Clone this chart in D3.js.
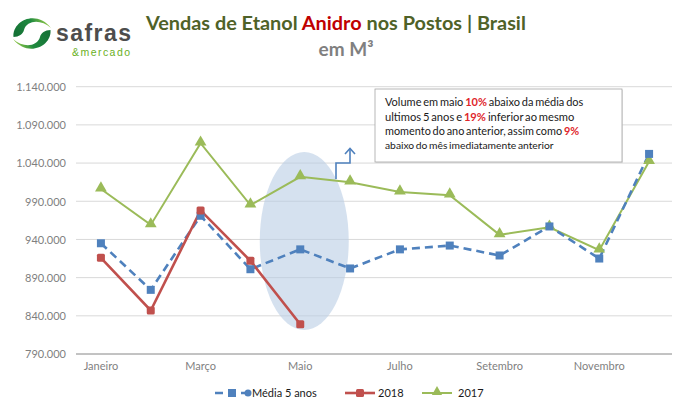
<!DOCTYPE html>
<html><head><meta charset="utf-8">
<script src="https://cdn.jsdelivr.net/npm/d3@7"></script>
<style>
html,body{margin:0;padding:0;background:#fff;}
svg{display:block;font-family:Lato,"Open Sans",sans-serif;}
</style></head>
<body><svg id="c" width="675" height="403"></svg>
<script>
const months = ["Janeiro","Fevereiro","Março","Abril","Maio","Junho","Julho","Agosto","Setembro","Outubro","Novembro","Dezembro"];
const tickMonths = ["Janeiro","Março","Maio","Julho","Setembro","Novembro"];
const media5 = [935000,874000,971000,901000,927000,902000,927000,932000,919000,957000,915000,1052000];
const s2018 = [916000,847000,978000,912000,829000];
const s2017 = [1006000,959000,1066000,985000,1022000,1015000,1002000,998000,946000,956000,926000,1042000];
const yTicks = [790000,840000,890000,940000,990000,1040000,1090000,1140000];
const legendNames = ["Média 5 anos","2018","2017"];

const svg = d3.select("#c");
const x = d3.scaleBand().domain(months).range([76,674]).padding(0);
const cx = m => x(m) + x.bandwidth()/2;
const y = d3.scaleLinear().domain([790000,1140000]).range([354,86.7]);
const fmt = v => d3.format(",")(v).replace(/,/g,".");

const defs = svg.append("defs");
const g1 = defs.append("linearGradient").attr("id","gTop").attr("x1","0").attr("x2","1").attr("y1","0.6").attr("y2","0.3");
g1.append("stop").attr("offset","0").attr("stop-color","#157236");
g1.append("stop").attr("offset","0.55").attr("stop-color","#1f8a3f");
g1.append("stop").attr("offset","1").attr("stop-color","#9fd04a");
const g2 = defs.append("linearGradient").attr("id","gBot").attr("x1","1").attr("x2","0").attr("y1","0.4").attr("y2","0.7");
g2.append("stop").attr("offset","0").attr("stop-color","#157236");
g2.append("stop").attr("offset","0.55").attr("stop-color","#1f8a3f");
g2.append("stop").attr("offset","1").attr("stop-color","#9fd04a");

// fit a text element to a target width by adjusting font size
function fitWidth(sel, target){
  const n = sel.node();
  const fs = parseFloat(sel.attr("font-size"));
  const w = n.getComputedTextLength();
  if (w > 0) sel.attr("font-size", (fs*target/w).toFixed(2));
}
// fit a text element to a target width by adjusting letter spacing
function fitSpacing(sel, target){
  const n = sel.node();
  const txt = sel.text();
  const w = n.getComputedTextLength();
  if (w > 0 && txt.length > 1) sel.attr("letter-spacing", ((target - w)/(txt.length-1)).toFixed(2));
}

// gridlines
svg.append("g").selectAll("line").data(yTicks.slice(1)).join("line")
  .attr("x1",76).attr("x2",672).attr("y1",d=>y(d)).attr("y2",d=>y(d))
  .attr("stroke","#d9d9d9").attr("stroke-width",1);
svg.append("line").attr("x1",76).attr("x2",672).attr("y1",y(790000)).attr("y2",y(790000))
  .attr("stroke","#868686").attr("stroke-width",1);

// y axis labels
const yAxis = d3.axisLeft(y).tickValues(yTicks).tickFormat(fmt).tickSize(0).tickPadding(0);
const gy = svg.append("g").attr("transform","translate(66,0)").call(yAxis);
gy.select(".domain").remove();
gy.selectAll("text").attr("font-family","Lato").attr("font-size",11).attr("fill","#7f7f7f").attr("dy","0.35em");

// x axis labels
const xAxis = d3.axisBottom(x).tickValues(tickMonths).tickSize(0).tickPadding(0);
const gx = svg.append("g").attr("transform","translate(0,362)").call(xAxis);
gx.select(".domain").remove();
gx.selectAll("text").attr("font-family","Lato").attr("font-size",11).attr("fill","#7f7f7f").attr("dy","0.75em");

// highlight ellipse
svg.append("ellipse").attr("cx",cx("Maio")+4).attr("cy",241).attr("rx",44.5).attr("ry",89)
  .attr("fill","#b9cde5").attr("opacity",0.6);

// lines
const line = d3.line().x((d,i)=>cx(months[i])).y(d=>y(d));
svg.append("path").attr("d",line(s2017)).attr("fill","none").attr("stroke","#9bbb59").attr("stroke-width",2);
svg.append("path").attr("d",line(media5)).attr("fill","none").attr("stroke","#4f81bd").attr("stroke-width",2.6).attr("stroke-dasharray","8,5");
svg.append("path").attr("d",line(s2018)).attr("fill","none").attr("stroke","#c0504d").attr("stroke-width",2.6);

// markers
const tri = d3.symbol().type(d3.symbolTriangle).size(60);
svg.append("g").selectAll("path").data(s2017).join("path")
  .attr("d",tri).attr("transform",(d,i)=>`translate(${cx(months[i])},${y(d)-1})`).attr("fill","#9bbb59");
svg.append("g").selectAll("rect").data(media5).join("rect")
  .attr("x",(d,i)=>cx(months[i])-4).attr("y",d=>y(d)-4).attr("width",8).attr("height",8).attr("fill","#4f81bd");
svg.append("g").selectAll("rect").data(s2018).join("rect")
  .attr("x",(d,i)=>cx(months[i])-4).attr("y",d=>y(d)-4).attr("width",8).attr("height",8).attr("rx",1.5).attr("fill","#c0504d");

// bent arrow
svg.append("path").attr("d","M336,179V163H350V149").attr("fill","none").attr("stroke","#4f81bd").attr("stroke-width",1.6);
svg.append("path").attr("d","M345,154L350,148.5L355,154").attr("fill","none").attr("stroke","#4f81bd").attr("stroke-width",1.6);

// annotation box
svg.append("rect").attr("x",376).attr("y",90).attr("width",247).attr("height",73).attr("fill","#d9d9d9").attr("opacity",0.6);
svg.append("rect").attr("x",375).attr("y",89).attr("width",247).attr("height",73).attr("fill","#fff").attr("stroke","#a6a6a6").attr("stroke-width",0.8);
const ann = [
  {y:106, size:10.5, len:198, parts:[["Volume em maio ","#1a1a1a"],["10%","#e0262b"],[" abaixo da média dos","#1a1a1a"]]},
  {y:120.5, size:10.5, len:189, parts:[["ultimos 5 anos  e  ","#1a1a1a"],["19%","#e0262b"],[" inferior ao mesmo","#1a1a1a"]]},
  {y:135, size:10.5, len:194, parts:[["momento do ano anterior, assim como ","#1a1a1a"],["9%","#e0262b"]]},
  {y:148.5, size:9, len:168, parts:[["abaixo do mês imediatamente anterior","#1a1a1a"]]}
];
ann.forEach(l=>{
  const t = svg.append("text").attr("x",385).attr("y",l.y).attr("font-family","Lato").attr("font-size",l.size)
    .attr("word-spacing","-1");
  l.parts.forEach(p=>{
    const ts = t.append("tspan").text(p[0]).attr("fill",p[1]);
    if(p[1]!=="#1a1a1a") ts.attr("font-weight","bold");
  });
  fitWidth(t, l.len);
});

// title
const title = svg.append("text").attr("x",146).attr("y",29.5)
  .attr("font-family","Lato").attr("font-weight","bold").attr("font-size",21);
title.append("tspan").text("Vendas de Etanol ").attr("fill","#4f6228");
title.append("tspan").text("Anidro").attr("fill","#c00000");
title.append("tspan").text(" nos Postos | Brasil").attr("fill","#4f6228");
fitWidth(title, 380);
svg.append("text").attr("x",346).attr("y",55.5).attr("text-anchor","middle")
  .attr("font-family","Lato").attr("font-weight","bold").attr("font-size",19).attr("fill","#808080").text("em M³");

// logo
const logo = svg.append("g");
logo.append("path").attr("d","M13.5,37C12,21 36,9 51,28C41,19 27,20 24,30C23,34 19,37 13.5,37Z").attr("fill","url(#gTop)");
logo.append("path").attr("d","M50.5,30C52,46 28,58 13,39C23,48 37,47 40,37C41,33 45,30 50.5,30Z").attr("fill","url(#gBot)");
const brand1 = svg.append("text").attr("x",56).attr("y",40.5).attr("font-family","Liberation Sans, Arial, sans-serif")
  .attr("font-weight","bold").attr("font-size",23).attr("fill","#4d4d4d").text("safras");
fitSpacing(brand1, 75);
const brand2 = svg.append("text").attr("x",72).attr("y",55.5).attr("font-family","Liberation Sans, Arial, sans-serif")
  .attr("font-size",10.5).attr("fill","#6ab023").text("&mercado");
fitSpacing(brand2, 58);

// legend
const lg = svg.append("g").attr("font-family","Lato").attr("font-size",11).attr("fill","#1a1a1a");
lg.append("line").attr("x1",215).attr("x2",250).attr("y1",393).attr("y2",393).attr("stroke","#4f81bd").attr("stroke-width",2.6).attr("stroke-dasharray","8,5");
lg.append("rect").attr("x",228).attr("y",389).attr("width",8).attr("height",8).attr("fill","#4f81bd");
lg.append("circle").attr("cx",248).attr("cy",393).attr("r",3.5).attr("fill","#4f81bd");
lg.append("text").attr("x",252).attr("y",397).text(legendNames[0]);
lg.append("line").attr("x1",345).attr("x2",375).attr("y1",393).attr("y2",393).attr("stroke","#c0504d").attr("stroke-width",2.6);
lg.append("rect").attr("x",356).attr("y",389).attr("width",8).attr("height",8).attr("rx",1.5).attr("fill","#c0504d");
lg.append("text").attr("x",378).attr("y",397).text(legendNames[1]);
lg.append("line").attr("x1",422).attr("x2",452).attr("y1",393).attr("y2",393).attr("stroke","#9bbb59").attr("stroke-width",2);
lg.append("path").attr("d",d3.symbol().type(d3.symbolTriangle).size(45)).attr("transform","translate(437,392)").attr("fill","#9bbb59");
lg.append("text").attr("x",458).attr("y",397).text(legendNames[2]);
</script></body></html>
